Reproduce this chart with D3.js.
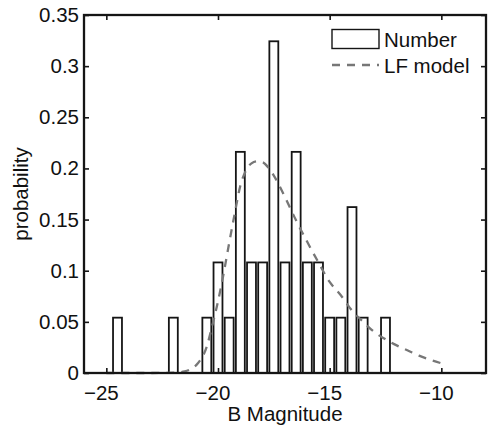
<!DOCTYPE html>
<html>
<head>
<meta charset="utf-8">
<script src="https://cdn.jsdelivr.net/npm/d3@7"></script>
<style>
  body { margin: 0; background: #fff; }
  text { font-family: "Liberation Sans", Arial, Helvetica, sans-serif; fill: #111; }
</style>
</head>
<body>
<div id="chart"></div>
<script>
// histogram bins (B magnitude, bin width 0.5) and probability per bin
var binCenters = [-24.5, -22, -20.5, -20, -19.5, -19, -18.5, -18, -17.5, -17, -16.5, -16, -15.5, -15, -14.5, -14, -13.5, -12.5];
var binProb = [0.0541, 0.0541, 0.0541, 0.1081, 0.0541, 0.2162, 0.1081, 0.1081, 0.3243, 0.1081, 0.2162, 0.1081, 0.1081, 0.0541, 0.0541, 0.1622, 0.0541, 0.0541];
var binWidth = 0.5;

// LF model curve
var modelMag = [-25, -24, -23, -22, -21.5, -21.2, -20.9, -20.5, -20.25, -20, -19.75, -19.5, -19.25, -19, -18.75, -18.5, -18.25, -18, -17.75, -17.5, -17, -16.5, -16, -15.5, -15, -14.5, -14, -13.5, -13, -12.5, -12, -11.5, -11, -10.5, -10];
var modelProb = [0, 0, 0, 0.0003, 0.0015, 0.004, 0.0095, 0.026, 0.047, 0.07, 0.097, 0.127, 0.156, 0.183, 0.198, 0.205, 0.207, 0.206, 0.201, 0.193, 0.172, 0.149, 0.128, 0.108, 0.089, 0.076, 0.061, 0.05, 0.04, 0.033, 0.027, 0.022, 0.017, 0.013, 0.0095];

var xTicks = [-25, -20, -15, -10];
var yTicks = [0, 0.05, 0.1, 0.15, 0.2, 0.25, 0.3, 0.35];
var yTickLabels = ['0', '0.05', '0.1', '0.15', '0.2', '0.25', '0.3', '0.35'];

var margin = { top: 15, right: 2, bottom: 53, left: 84 };
var width = 488 - margin.left - margin.right;
var height = 426 - margin.top - margin.bottom;
var ink = '#151515';

var x = d3.scaleLinear().domain([-26, -8]).range([0, width]);
var y = d3.scaleLinear().domain([0, 0.35]).range([height, 0]);

var svg = d3.select('#chart').append('svg')
    .attr('width', 488)
    .attr('height', 426);

var g = svg.append('g')
    .attr('transform', 'translate(' + margin.left + ',' + margin.top + ')');

// bars
g.selectAll('rect.bar').data(binCenters)
  .enter().append('rect')
    .attr('class', 'bar')
    .attr('x', function(d) { return x(d - binWidth * 0.4); })
    .attr('width', function(d) { return x(d + binWidth * 0.4) - x(d - binWidth * 0.4); })
    .attr('y', function(d, i) { return y(binProb[i]); })
    .attr('height', function(d, i) { return y(0) - y(binProb[i]); })
    .style('fill', '#fff')
    .style('stroke', ink)
    .style('stroke-width', 1.8);

// model curve
var line = d3.line()
    .x(function(d, i) { return x(modelMag[i]); })
    .y(function(d) { return y(d); })
    .curve(d3.curveMonotoneX);

g.append('path')
    .datum(modelProb)
    .attr('d', line)
    .style('fill', 'none')
    .style('stroke', '#777')
    .style('stroke-width', 2.3)
    .style('stroke-dasharray', '8,7');

// axes (ticks inside, box on)
var fontSize = '20.5px';

var xAxis = g.append('g')
    .attr('transform', 'translate(0,' + height + ')')
    .call(d3.axisBottom(x).tickValues(xTicks).tickSize(-5).tickPadding(12.4)
      .tickFormat(function(d) { return '\u2212' + Math.abs(d); }));
xAxis.selectAll('text').attr('dx', -5.5).style('font-size', fontSize);

var yAxis = g.append('g')
    .call(d3.axisLeft(y).tickValues(yTicks).tickSize(-5).tickPadding(5)
      .tickFormat(function(d, i) { return yTickLabels[i]; }));
yAxis.selectAll('text').style('font-size', fontSize);

g.append('g')
    .call(d3.axisTop(x).tickValues(xTicks).tickSize(-5).tickFormat(''));
g.append('g')
    .attr('transform', 'translate(' + width + ',0)')
    .call(d3.axisRight(y).tickValues(yTicks).tickSize(-5).tickFormat(''));

g.selectAll('.domain').remove();
g.selectAll('.tick line').style('stroke', ink).style('stroke-width', 1.6);

g.append('rect')
    .attr('width', width)
    .attr('height', height)
    .style('fill', 'none')
    .style('stroke', ink)
    .style('stroke-width', 2.3);

// axis titles
svg.append('text')
    .attr('x', margin.left + width / 2)
    .attr('y', 421)
    .attr('text-anchor', 'middle')
    .style('font-size', fontSize)
    .text('B Magnitude');

svg.append('text')
    .attr('transform', 'translate(28,' + (margin.top + height / 2) + ') rotate(-90)')
    .attr('text-anchor', 'middle')
    .style('font-size', fontSize)
    .text('probability');

// legend
var legend = svg.append('g');
legend.append('rect')
    .attr('x', 332).attr('y', 29.5)
    .attr('width', 47).attr('height', 19)
    .style('fill', '#fff')
    .style('stroke', ink)
    .style('stroke-width', 1.4);
legend.append('text')
    .attr('x', 384).attr('y', 46.5)
    .style('font-size', fontSize)
    .text('Number');
legend.append('line')
    .attr('x1', 332).attr('x2', 379)
    .attr('y1', 65).attr('y2', 65)
    .style('stroke', '#777')
    .style('stroke-width', 2.3)
    .style('stroke-dasharray', '8,7');
legend.append('text')
    .attr('x', 384).attr('y', 72.5)
    .style('font-size', fontSize)
    .text('LF model');
</script>
</body>
</html>
